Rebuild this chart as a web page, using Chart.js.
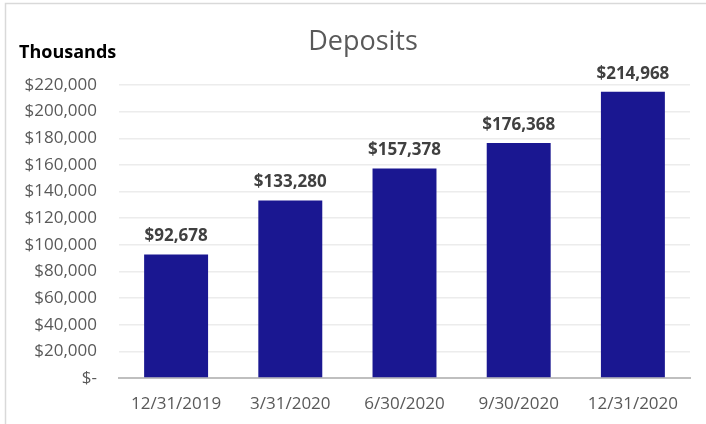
<!DOCTYPE html>
<html>
<head>
<meta charset="utf-8">
<script src="https://cdn.jsdelivr.net/npm/chart.js@4"></script>
<style>
  html, body { margin: 0; padding: 0; background: #ffffff; }
  #wrap { width: 706px; height: 424px; }
</style>
</head>
<body>
<div id="wrap"><canvas id="depositsChart" width="706" height="424"></canvas></div>
<script>
// --- Chart data ---
const quarters = ['12/31/2019', '3/31/2020', '6/30/2020', '9/30/2020', '12/31/2020'];
const deposits = [92678, 133280, 157378, 176368, 214968];
const yTicks = [0, 20000, 40000, 60000, 80000, 100000, 120000, 140000, 160000, 180000, 200000, 220000];

const barColor = '#1a1791';
const textGray = '#595959';
const fontFamily = '"Open Sans", "Liberation Sans", sans-serif';

const money = v => v === 0 ? '$-' : '$' + v.toLocaleString('en-US');

// draws frame, title, "Thousands" and the value labels
const decorations = {
    id: 'decorations',
    beforeDraw(chart) {
        const ctx = chart.ctx;
        ctx.save();
        ctx.strokeStyle = '#d9d9d9';
        ctx.lineWidth = 1.5;
        ctx.beginPath();
        ctx.moveTo(5.5, 424);
        ctx.lineTo(5.5, 3.5);
        ctx.lineTo(706, 3.5);
        ctx.stroke();
        ctx.restore();
    },
    afterDraw(chart) {
        const ctx = chart.ctx;
        ctx.save();
        // title
        ctx.fillStyle = textGray;
        ctx.font = '27px ' + fontFamily;
        ctx.textAlign = 'center';
        ctx.textBaseline = 'middle';
        ctx.fillText('Deposits', 363, 42);
        // unit label
        ctx.fillStyle = '#000000';
        ctx.font = 'bold 18px ' + fontFamily;
        ctx.textAlign = 'left';
        ctx.fillText('Thousands', 19, 53);
        // value labels
        ctx.fillStyle = '#404040';
        ctx.font = 'bold 17px ' + fontFamily;
        ctx.textAlign = 'center';
        chart.getDatasetMeta(0).data.forEach((bar, i) => {
            ctx.fillText(money(deposits[i]), bar.x, bar.y - 18);
        });
        ctx.restore();
    }
};

const ctx = document.getElementById('depositsChart').getContext('2d');
new Chart(ctx, {
    type: 'bar',
    data: {
        labels: quarters,
        datasets: [{
            label: 'Deposits',
            data: deposits,
            backgroundColor: barColor,
            borderWidth: 0,
            barPercentage: 0.56,
            categoryPercentage: 1
        }]
    },
    options: {
        responsive: false,
        animation: false,
        layout: { padding: { top: 85, right: 16, bottom: 0, left: 0 } },
        plugins: {
            legend: { display: false },
            title: { display: false },
            tooltip: { enabled: false }
        },
        scales: {
            x: {
                grid: { display: false, drawTicks: false },
                border: { color: '#bfbfbf', width: 2 },
                ticks: { color: textGray, font: { family: fontFamily, size: 17 }, padding: 16, maxRotation: 0 },
                afterFit: scale => { scale.height = 46; }
            },
            y: {
                min: 0,
                max: 220000,
                grid: { color: '#ececec', lineWidth: 1.5, drawTicks: false },
                border: { display: false },
                afterBuildTicks: scale => { scale.ticks = yTicks.map(v => ({ value: v })); },
                ticks: {
                    color: textGray,
                    font: { family: fontFamily, size: 17 },
                    padding: 22,
                    callback: v => money(v)
                },
                afterFit: scale => { scale.width = 119; }
            }
        }
    },
    plugins: [decorations]
});
</script>
</body>
</html>
